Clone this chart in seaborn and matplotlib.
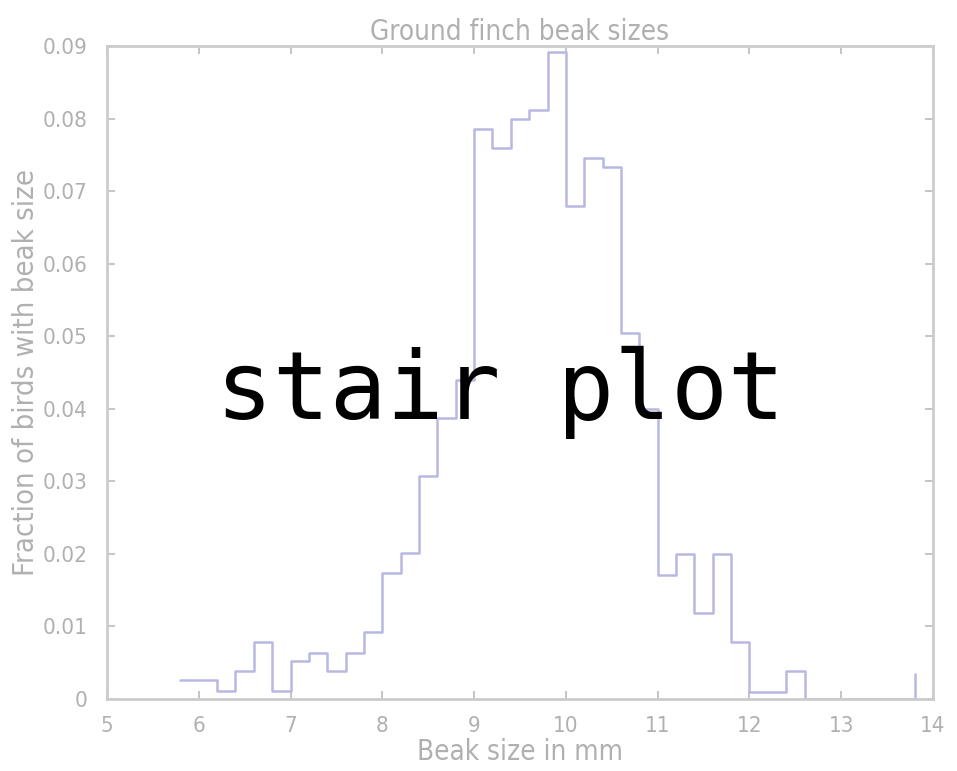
import numpy as np
import pandas as pd
import matplotlib
matplotlib.use("Agg")
import matplotlib.pyplot as plt
from matplotlib import font_manager
import seaborn as sns

# Bin start positions (mm) and fraction of birds
beak_size = [5.8, 6.0, 6.2, 6.4, 6.6, 6.8, 7.0, 7.2, 7.4, 7.6, 7.8,
             8.0, 8.2, 8.4, 8.6, 8.8, 9.0, 9.2, 9.4, 9.6, 9.8,
             10.0, 10.2, 10.4, 10.6, 10.8, 11.0, 11.2, 11.4, 11.6, 11.8,
             12.0, 12.2, 12.4, 12.6, 12.8, 13.0, 13.2, 13.4, 13.6, 13.8]
fraction = [0.0026, 0.0026, 0.0011, 0.0038, 0.0078, 0.0011, 0.0052, 0.0064, 0.0039, 0.0064, 0.0093,
            0.0173, 0.0201, 0.0307, 0.0387, 0.0439, 0.0785, 0.0759, 0.0799, 0.0812, 0.0892,
            0.0679, 0.0745, 0.0733, 0.0505, 0.0400, 0.0171, 0.0200, 0.0119, 0.0200, 0.0079,
            0.0010, 0.0010, 0.0038, 0.0, 0.0, 0.0, 0.0, 0.0, 0.0, 0.0035]
x_ticks = [5, 6, 7, 8, 9, 10, 11, 12, 13, 14]
y_ticks = [0, 0.01, 0.02, 0.03, 0.04, 0.05, 0.06, 0.07, 0.08, 0.09]
y_tick_labels = ["0", "0.01", "0.02", "0.03", "0.04", "0.05", "0.06", "0.07", "0.08", "0.09"]

df = pd.DataFrame({"beak": beak_size, "frac": fraction})

sns.set_style("white")
names = {f.name for f in font_manager.fontManager.ttflist}
if "Liberation Sans Narrow" in names:
    base_family = "Liberation Sans Narrow"
    stretch = "normal"
else:
    base_family = "DejaVu Sans"
    stretch = "condensed"
plt.rcParams["font.family"] = [base_family, "DejaVu Sans"]
plt.rcParams["font.stretch"] = stretch

W, H = 957, 771
fig = plt.figure(figsize=(W / 100, H / 100), dpi=100)
ax = fig.add_axes([107 / W, 1 - 699 / H, (933 - 107) / W, (699 - 46) / H])

sns.lineplot(data=df, x="beak", y="frac", ax=ax, drawstyle="steps-post",
             color="#b8b8e2", linewidth=1.8, estimator=None, sort=False)

ax.set_xlim(5, 14)
ax.set_ylim(0, 0.09)
ax.set_xticks(x_ticks)
ax.set_xticklabels([str(t) for t in x_ticks])
ax.set_yticks(y_ticks)
ax.set_yticklabels(y_tick_labels)

gray_txt = "#b0b0b0"
for s in ax.spines.values():
    s.set_visible(True)
    s.set_color("#cccccc")
    s.set_linewidth(2)
ax.tick_params(direction="in", length=6, width=1.2, color="#bbbbbb",
               labelcolor=gray_txt, labelsize=16, top=True, right=True,
               bottom=True, left=True)
ax.tick_params(axis="x", pad=12)
ax.tick_params(axis="y", pad=14)

ax.set_title("Ground finch beak sizes", color=gray_txt, fontsize=20, pad=4)
ax.set_xlabel("Beak size in mm", color=gray_txt, fontsize=20, labelpad=2)
ax.set_ylabel("Fraction of birds with beak size", color=gray_txt, fontsize=21, labelpad=2)

fig.text(500 / W, 1 - 392 / H, "stair plot", fontsize=68, family="DejaVu Sans Mono",
         stretch="normal", color="black", ha="center", va="center")

fig.savefig("out.png", dpi=100, facecolor="white")
